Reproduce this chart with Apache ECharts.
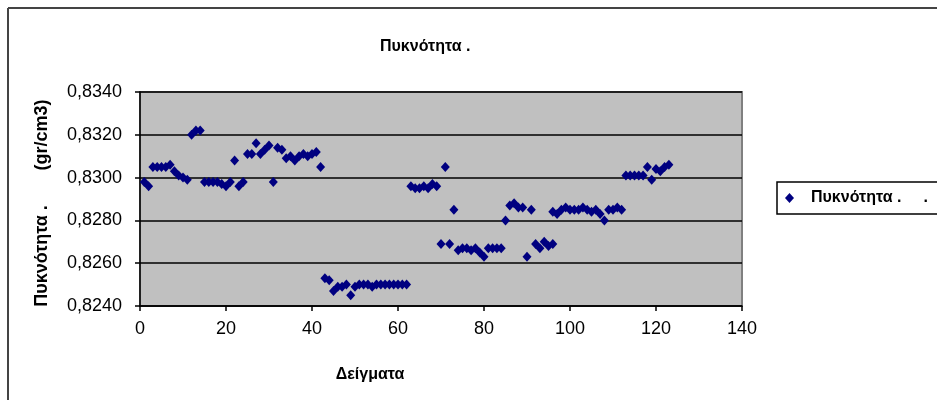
<!DOCTYPE html>
<html>
<head>
<meta charset="utf-8">
<script src="https://cdn.jsdelivr.net/npm/echarts@6/dist/echarts.min.js"></script>
<style>
html,body{margin:0;padding:0;background:#fff;}
#c{width:937px;height:400px;}
</style>
</head>
<body>
<div id="c"></div>
<script>
var seriesName = 'Πυκνότητα';
var titleText = 'Πυκνότητα .';
var xAxisTitle = 'Δείγματα';
var yAxisTitleA = 'Πυκνότητα .';
var yAxisTitleB = '(gr/cm3)';

var samples = [
  1,2,3,4,5,6,7,8,9,10,11,12,13,14,15,
  16,17,18,19,20,21,22,23,24,25,26,27,28,29,30,
  31,32,33,34,35,36,37,38,39,40,41,42,
  43,44,45,46,47,48,49,50,51,52,53,54,55,56,57,58,59,60,61,62,
  63,64,65,66,67,68,69,
  70,71,72,73,74,75,76,77,78,79,80,81,82,83,84,85,
  86,87,88,89,90,91,92,93,94,95,96,
  96,97,98,99,100,101,102,103,104,105,106,107,108,109,110,111,112,
  113,114,115,116,117,118,119,120,121,122,123
];
var density = [
  0.8298,0.8296,0.8305,0.8305,0.8305,0.8305,0.8306,0.8303,0.8301,0.8300,0.8299,0.8320,0.8322,0.8322,0.8298,
  0.8298,0.8298,0.8298,0.8297,0.8296,0.8298,0.8308,0.8296,0.8298,0.8311,0.8311,0.8316,0.8311,0.8313,0.8315,
  0.8298,0.8314,0.8313,0.8309,0.8310,0.8308,0.8310,0.8311,0.8310,0.8311,0.8312,0.8305,
  0.8253,0.8252,0.8247,0.8249,0.8249,0.8250,0.8245,0.8249,0.8250,0.8250,0.8250,0.8249,0.8250,0.8250,0.8250,0.8250,0.8250,0.8250,0.8250,0.8250,
  0.8296,0.8295,0.8295,0.8296,0.8295,0.8297,0.8296,
  0.8269,0.8305,0.8269,0.8285,0.8266,0.8267,0.8267,0.8266,0.8267,0.8265,0.8263,0.8267,0.8267,0.8267,0.8267,0.8280,
  0.8287,0.8288,0.8286,0.8286,0.8263,0.8285,0.8269,0.8267,0.8270,0.8268,0.8269,
  0.8284,0.8283,0.8285,0.8286,0.8285,0.8285,0.8285,0.8286,0.8285,0.8284,0.8285,0.8283,0.8280,0.8285,0.8285,0.8286,0.8285,
  0.8301,0.8301,0.8301,0.8301,0.8301,0.8305,0.8299,0.8304,0.8303,0.8305,0.8306
];
var xTicks = [0,20,40,60,80,100,120,140];
var yTicks = ['0,8240','0,8260','0,8280','0,8300','0,8320','0,8340'];

var points = samples.map(function(s, i){ return [s, density[i]]; });

var chart = echarts.init(document.getElementById('c'), null, {renderer:'canvas'});
var FONT = '"Liberation Sans", Arial, sans-serif';
chart.setOption({
  backgroundColor: '#ffffff',
  animation: false,
  textStyle: {fontFamily: FONT},
  title: {
    text: titleText,
    left: 375, top: 34,
    textStyle: {fontSize: 16, fontWeight: 'bold', color: '#000', fontFamily: FONT}
  },
  legend: {
    left: 777, top: 182,
    orient: 'vertical',
    padding: [8, 70, 8, 8],
    borderColor: '#000', borderWidth: 1.5,
    icon: 'diamond', itemWidth: 9, itemHeight: 10,
    formatter: function(n){ return n + ' .     .'; },
    itemStyle: {opacity: 1},
    textStyle: {fontSize: 16, fontWeight: 'bold', color: '#000', fontFamily: FONT, padding: [0,0,0,12]},
    data: [seriesName]
  },
  grid: {
    left: 140, right: 195, top: 92, bottom: 94,
    show: true, backgroundColor: '#C0C0C0', borderColor: '#808080', borderWidth: 2
  },
  xAxis: {
    type: 'value', min: xTicks[0], max: xTicks[xTicks.length-1], interval: 20,
    axisLine: {show: true, onZero: false, lineStyle: {color: '#000', width: 1.5}},
    axisTick: {show: true, inside: false, length: 5, lineStyle: {color: '#000', width: 1.5}},
    axisLabel: {fontSize: 18, color: '#000', margin: 14, fontFamily: FONT},
    splitLine: {show: false}
  },
  yAxis: {
    type: 'value', min: 0.824, max: 0.834, interval: 0.002,
    axisLine: {show: true, lineStyle: {color: '#000', width: 1.5}},
    axisTick: {show: true, inside: false, length: 5, lineStyle: {color: '#000', width: 1.5}},
    axisLabel: {
      fontSize: 18, color: '#000', margin: 18, fontFamily: FONT,
      formatter: function(v){
        var i = Math.round((v - 0.824) / 0.002);
        return yTicks[i] !== undefined ? yTicks[i] : '';
      }
    },
    splitLine: {show: true, lineStyle: {color: '#000', width: 1.5}}
  },
  graphic: [
    {type: 'line', shape: {x1: 8, y1: 8, x2: 937, y2: 8}, style: {stroke: '#444', lineWidth: 2}, silent: true},
    {type: 'line', shape: {x1: 8, y1: 8, x2: 8, y2: 400}, style: {stroke: '#444', lineWidth: 2}, silent: true},
    {type: 'text', x: 370, y: 375, style: {text: xAxisTitle, font: 'bold 16px ' + FONT, fill: '#000', textAlign: 'center', textVerticalAlign: 'middle'}},
    {type: 'text', x: 42, y: 256, rotation: Math.PI/2, style: {text: yAxisTitleA, font: 'bold 18px ' + FONT, fill: '#000', textAlign: 'center', textVerticalAlign: 'middle'}},
    {type: 'text', x: 42, y: 135, rotation: Math.PI/2, style: {text: yAxisTitleB, font: 'bold 18px ' + FONT, fill: '#000', textAlign: 'center', textVerticalAlign: 'middle'}}
  ],
  series: [{
    name: seriesName,
    type: 'scatter',
    symbol: 'diamond',
    symbolSize: [9, 10],
    itemStyle: {color: '#000080', opacity: 1},
    data: points
  }]
});
</script>
</body>
</html>
